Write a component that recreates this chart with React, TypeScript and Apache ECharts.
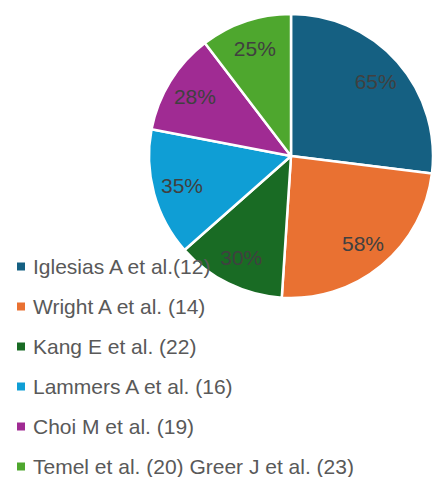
import React, { useEffect, useRef } from "react";
import * as echarts from "echarts";

const categories = [
  "Iglesias A et al.(12)",
  "Wright A et al. (14)",
  "Kang E et al. (22)",
  "Lammers A et al. (16)",
  "Choi M et al. (19)",
  "Temel et al. (20) Greer J et al. (23)",
];
const values = [65, 58, 30, 35, 28, 25];
const colors = ["#156082", "#E97132", "#196B24", "#0F9ED5", "#A02B93", "#4EA72E"];

export default function App() {
  const ref = useRef<HTMLDivElement>(null);
  useEffect(() => {
    if (!ref.current) return;
    const chart = echarts.init(ref.current, null, { renderer: "svg" });
    const data = categories.map((name, i) => ({ name, value: values[i] }));
    const font = "'Liberation Sans', Arial, sans-serif";
    chart.setOption({
      animation: false,
      color: colors,
      legend: {
        orient: "vertical",
        left: 12,
        top: 251,
        height: 240,
        icon: "rect",
        itemWidth: 8,
        itemHeight: 8,
        itemGap: 19,
        z: 10,
        data: categories,
        itemStyle: { borderWidth: 0 },
        textStyle: {
          fontFamily: font,
          fontSize: 21,
          color: "#595959",
          padding: [0, 0, 0, 3],
        },
      },
      series: [
        {
          type: "pie",
          center: [291, 156],
          radius: [0, 142],
          startAngle: 90,
          clockwise: true,
          data,
          label: { show: false },
          labelLine: { show: false },
          itemStyle: { borderColor: "#ffffff", borderWidth: 2.5 },
          emphasis: { disabled: true },
          silent: true,
        },
        {
          type: "pie",
          center: [291, 156],
          radius: [78, 142],
          startAngle: 90,
          clockwise: true,
          z: 20,
          data,
          silent: true,
          legendHoverLink: false,
          emphasis: { disabled: true },
          itemStyle: { opacity: 0, borderWidth: 0 },
          labelLine: { show: false },
          label: {
            show: true,
            opacity: 1,
            position: "inside",
            formatter: (p: any) => p.value + "%",
            fontFamily: font,
            fontSize: 21,
            color: "#404040",
          },
        },
      ],
    });
    return () => chart.dispose();
  }, []);
  return (
    <div
      ref={ref}
      style={{ position: "fixed", left: 0, top: 0, width: 433, height: 477, background: "#fff" }}
    />
  );
}
